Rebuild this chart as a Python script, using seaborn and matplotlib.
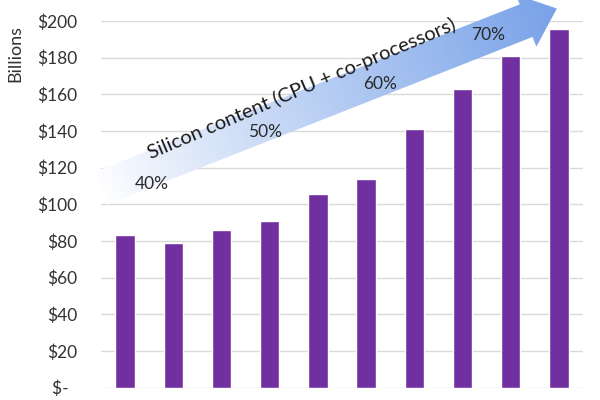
import numpy as np
import pandas as pd
import matplotlib
matplotlib.use("Agg")
import matplotlib.pyplot as plt
from matplotlib.patches import Polygon
import seaborn as sns

# ---- data ----
periods = ["P1", "P2", "P3", "P4", "P5", "P6", "P7", "P8", "P9", "P10"]
values = [83.1, 78.9, 86.2, 90.7, 105.6, 113.7, 141.1, 162.7, 180.9, 195.6]
y_ticks = [0, 20, 40, 60, 80, 100, 120, 140, 160, 180, 200]
y_tick_labels = ["$-  ", "$20", "$40", "$60", "$80", "$100", "$120",
                 "$140", "$160", "$180", "$200"]
y_label = "Billions"
arrow_label = "Silicon content (CPU + co-processors)"
pct_labels = ["40%", "50%", "60%", "70%"]

df = pd.DataFrame({"period": periods, "value": values})

sns.set_theme(style="white")
plt.rcParams["font.family"] = ["Lato", "DejaVu Sans"]

W, H = 600, 400
fig = plt.figure(figsize=(6, 4), dpi=100)
fig.patch.set_facecolor("white")

# axes placed so that 0..200 maps to pixel rows 387.5 .. 21
ax_left, ax_right = 101, 583
y0_px, y200_px = 387.5, 21
ax = fig.add_axes([ax_left / W, (H - y0_px) / H,
                   (ax_right - ax_left) / W, (y0_px - y200_px) / H])

sns.barplot(data=df, x="period", y="value", color="#7030A0", saturation=1,
            width=0.4, ax=ax, zorder=3)
ax.set_xlim(-0.5, len(periods) - 0.5)
ax.set_ylim(0, 200)
ax.set_yticks(y_ticks)
ax.set_yticklabels(y_tick_labels, fontsize=12.5, color="#333333")
ax.tick_params(axis="y", length=0, pad=17)
ax.set_xticks([])
ax.set_xlabel("")
ax.set_ylabel("")
for s in ax.spines.values():
    s.set_visible(False)
ax.yaxis.grid(True, color="#D9D9D9", linewidth=1.0, zorder=0)
ax.set_axisbelow(True)

fig.text(15.5 / W, 1 - 54 / H, y_label, rotation=90, ha="center", va="center",
         fontsize=13, color="#333333")

# ---- gradient arrow overlay (pixel coordinates, y downwards) ----
ov = fig.add_axes([0, 0, 1, 1], zorder=5)
ov.set_xlim(0, W)
ov.set_ylim(H, 0)
ov.axis("off")
ov.patch.set_alpha(0)

a = np.deg2rad(21.5)
u = np.array([np.cos(a), -np.sin(a)])
nd = np.array([np.sin(a), np.cos(a)])
T = np.array([100.0, 188.5])
w, hw, Lb, Lt = 17.5, 28.0, 458.0, 491.0
pts = [T - w * nd, T + Lb * u - w * nd, T + Lb * u - hw * nd, T + Lt * u,
       T + Lb * u + hw * nd, T + Lb * u + w * nd, T + w * nd]
poly = Polygon(pts, closed=True, facecolor="none", edgecolor="none")
ov.add_patch(poly)

xx, yy = np.meshgrid(np.arange(W) + 0.5, np.arange(H) + 0.5)
t = ((xx - T[0]) * u[0] + (yy - T[1]) * u[1]) / Lt
t = np.clip(t, 0, 1)
t = t ** 0.9
c0 = np.array([1.0, 1.0, 1.0])
c1 = np.array([0x78, 0xA2, 0xE8]) / 255.0
img = c0[None, None, :] * (1 - t[..., None]) + c1[None, None, :] * t[..., None]
im = ov.imshow(img, extent=(0, W, H, 0), origin="upper", aspect="auto",
               interpolation="bilinear")
im.set_clip_path(poly)

ov.text(302, 89, arrow_label, rotation=23, ha="center", va="center",
        fontsize=14.5, color="#1a1a1a", rotation_mode="anchor")
pct_pos = [(152, 184), (265, 132), (380, 84), (488, 35)]
for lab, (px, py) in zip(pct_labels, pct_pos):
    ov.text(px, py, lab, ha="center", va="center", fontsize=12.5,
            color="#2a2a2a")

fig.savefig("out.png", dpi=100)
